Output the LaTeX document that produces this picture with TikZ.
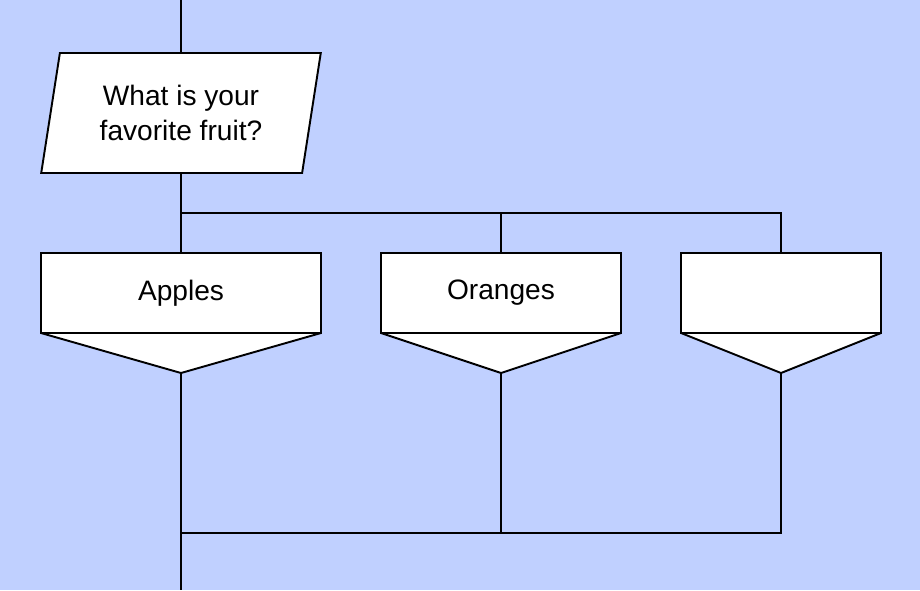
\documentclass[tikz,border=0pt]{standalone}
\usepackage{fontspec}
\setmainfont{Liberation Sans}
\usetikzlibrary{positioning,shapes.geometric}
\definecolor{bgblue}{RGB}{192,208,255}

\begin{document}
\begin{tikzpicture}[
    line width=1.1pt,
    question/.style={
        trapezium, trapezium left angle=77.5, trapezium right angle=102.5,
        trapezium stretches=true,
        minimum width=5.6cm, minimum height=2.4cm, inner sep=0pt, outer sep=0pt,
        draw=black, fill=white, align=center,
        font=\fontsize{16}{20.4}\selectfont
    },
    choice/.style={
        rectangle, minimum height=1.6cm, outer sep=0pt,
        draw=black, fill=white, align=center,
        font=\fontsize{16}{20.4}\selectfont
    },
    pointer/.style={draw=black, fill=white, line join=bevel},
    node distance=1.6cm and 1.2cm
]

% --- Background ---
\fill[bgblue] (0,0) rectangle (18.4,11.8);
\useasboundingbox (0,0) rectangle (18.4,11.8);

% --- Question ---
\node[question] (ask) at (3.62,9.54) {What is your\\favorite fruit?};

% --- Choices ---
\node[choice, minimum width=5.6cm, below=of ask] (apples) {Apples};
\node[choice, minimum width=4.8cm, right=of apples] (oranges) {Oranges};
\node[choice, minimum width=4.0cm, right=of oranges] (other) {};

% --- Pointers under the choices ---
\coordinate[below=0.8cm of apples.south] (apples tip);
\coordinate[below=0.8cm of oranges.south] (oranges tip);
\coordinate[below=0.8cm of other.south] (other tip);
\draw[pointer] (apples.south west) -- (apples tip) -- (apples.south east) -- cycle;
\draw[pointer] (oranges.south west) -- (oranges tip) -- (oranges.south east) -- cycle;
\draw[pointer] (other.south west) -- (other tip) -- (other.south east) -- cycle;

% --- Helper points ---
\coordinate[above=1.06cm of ask.north] (enter);
\coordinate[below=0.8cm of ask.south] (split);
\coordinate[below=3.2cm of apples tip] (merge);
\coordinate[below=1.14cm of merge] (leave);

% --- Lines ---
\draw (enter) -- (ask.north);
\draw (ask.south) -- (apples.north);
\draw (split) -| (oranges.north);
\draw (split) -| (other.north);
\draw (apples tip) -- (merge) -- (leave);
\draw (oranges tip) |- (merge);
\draw (other tip) |- (merge);

\end{tikzpicture}
\end{document}
